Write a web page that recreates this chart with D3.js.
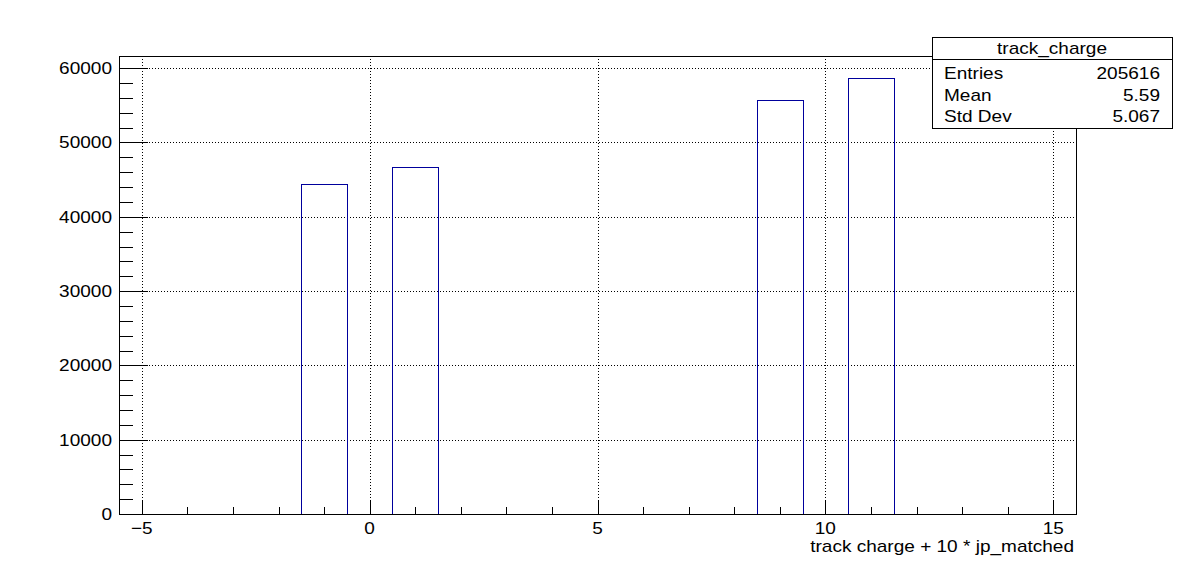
<!DOCTYPE html>
<html>
<head>
<meta charset="utf-8">
<script src="https://cdn.jsdelivr.net/npm/d3@7"></script>
<style>
    body{margin:0;background:#fff;}
    text{font-family:"Liberation Sans",Arial,Helvetica,sans-serif;fill:#000;}
</style>
</head>
<body>
<div id="chart"></div>
<script>
// histogram track_charge, bins of width 1 from -5.5 to 15.5
var binCenters=[-5,-4,-3,-2,-1,0,1,2,3,4,5,6,7,8,9,10,11,12,13,14,15];
var binCounts=[0,0,0,0,44437,0,46727,0,0,0,0,0,0,0,55746,0,58706,0,0,0,0];
var xTicks=[-5,0,5,10,15];
var yTicks=[0,10000,20000,30000,40000,50000,60000];
var statsTitle='track_charge';
var statsNames=['Entries','Mean','Std Dev'];
var statsValues=['205616','5.59','5.067'];
var xTitle='track charge + 10 * jp_matched';

(function(){
    var W=1196,H=572;
    var left=119,right=1076,top=56,bottom=514;
    var fs=17,sx=1.12; // root helvetica is a bit wider than liberation

    var svg=d3.select('#chart').append('svg').attr('width',W).attr('height',H);

    var ymax=d3.max(binCounts)*1.05;
    var x=d3.scaleLinear().domain([-5.5,15.5]).range([left,right]);
    var y=d3.scaleLinear().domain([0,ymax]).range([bottom,top]);

    function px(v){return Math.round(v)+0.5;}
    function label(g,tx,ty,str,anchor){
        return g.append('text').attr('transform','translate('+tx+','+ty+') scale('+sx+',1)')
            .attr('text-anchor',anchor||'start').attr('font-size',fs).text(str);
    }

    // grid
    var grid=svg.append('g').attr('stroke','#000').attr('stroke-dasharray','1,2').attr('shape-rendering','crispEdges');
    xTicks.forEach(function(t){
        grid.append('line').attr('x1',px(x(t))).attr('x2',px(x(t))).attr('y1',top).attr('y2',bottom);
    });
    yTicks.forEach(function(t){
        if(t===0) return;
        grid.append('line').attr('x1',left).attr('x2',right).attr('y1',px(y(t))).attr('y2',px(y(t)));
    });

    // histogram outline
    var pts=[];
    pts.push([x(-5.5),y(0)]);
    binCenters.forEach(function(c,i){
        pts.push([x(c-0.5),y(binCounts[i])]);
        pts.push([x(c+0.5),y(binCounts[i])]);
    });
    pts.push([x(15.5),y(0)]);
    var line=d3.line().x(function(d){return px(d[0]);}).y(function(d){return px(d[1]);});
    svg.append('path').attr('d',line(pts)).attr('fill','none').attr('stroke','#00009c')
        .attr('stroke-width',1).attr('shape-rendering','crispEdges');

    // frame
    svg.append('rect').attr('x',left+0.5).attr('y',top+0.5).attr('width',right-left).attr('height',bottom-top)
        .attr('fill','none').attr('stroke','#000').attr('shape-rendering','crispEdges');

    // ticks
    var ticks=svg.append('g').attr('stroke','#000').attr('shape-rendering','crispEdges');
    var xMajLen=(bottom-top)*0.03,xMinLen=xMajLen/2;
    d3.range(-5,16,1).forEach(function(t){
        var len=(t%5===0)?xMajLen:xMinLen;
        ticks.append('line').attr('x1',px(x(t))).attr('x2',px(x(t))).attr('y1',bottom).attr('y2',bottom-len);
    });
    var yMajLen=(right-left)*0.03,yMinLen=yMajLen/2;
    d3.range(0,ymax,2000).forEach(function(t){
        var len=(t%10000===0)?yMajLen:yMinLen;
        ticks.append('line').attr('x1',left).attr('x2',left+len).attr('y1',px(y(t))).attr('y2',px(y(t)));
    });

    // labels
    var fmt=function(d){return d<0?'\u2212'+Math.abs(d):String(d);};
    var gx=svg.append('g'),gy=svg.append('g');
    xTicks.forEach(function(t){ label(gx,x(t),534,fmt(t),'middle'); });
    yTicks.forEach(function(t){ label(gy,112,y(t)+6,String(t),'end'); });

    label(svg,1074,552,xTitle,'end');

    // stats box
    var bx=932,by=37,bw=240,bh=91;
    var st=svg.append('g');
    st.append('rect').attr('x',bx+0.5).attr('y',by+0.5).attr('width',bw).attr('height',bh)
        .attr('fill','#fff').attr('stroke','#000').attr('shape-rendering','crispEdges');
    st.append('line').attr('x1',bx).attr('x2',bx+bw).attr('y1',59.5).attr('y2',59.5)
        .attr('stroke','#000').attr('shape-rendering','crispEdges');
    label(st,bx+bw/2,54,statsTitle,'middle');
    var rowY=[79,100.5,122];
    statsNames.forEach(function(n,i){
        label(st,944,rowY[i],n,'start');
        label(st,1160,rowY[i],statsValues[i],'end');
    });
})();
</script>
</body>
</html>
